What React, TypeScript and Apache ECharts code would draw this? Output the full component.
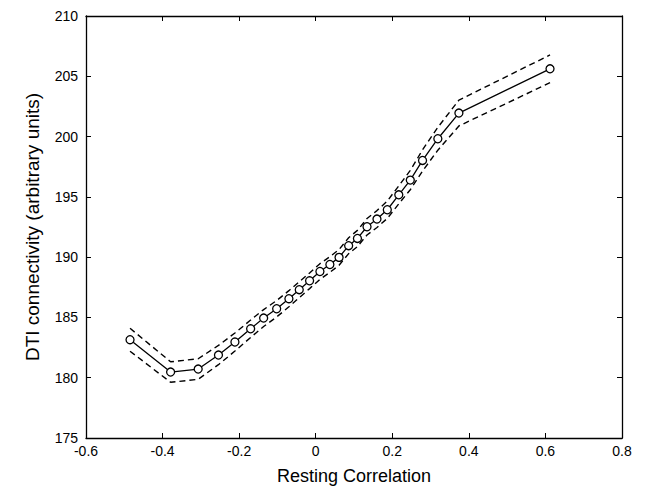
import React, { useEffect, useRef } from "react";
import * as echarts from "echarts";

const xValues = [-0.485, -0.379, -0.307, -0.254, -0.211, -0.170, -0.136, -0.102, -0.070, -0.043, -0.016, 0.011, 0.037, 0.061, 0.086, 0.109, 0.134, 0.160, 0.187, 0.217, 0.247, 0.279, 0.319, 0.374, 0.612];
const meanValues = [183.15, 180.47, 180.72, 181.88, 182.96, 184.06, 184.95, 185.72, 186.55, 187.30, 188.04, 188.81, 189.39, 189.98, 190.95, 191.55, 192.52, 193.16, 193.93, 195.17, 196.39, 198.02, 199.82, 201.95, 205.62];
const upperValues = [184.10, 181.32, 181.57, 182.68, 183.71, 184.78, 185.65, 186.40, 187.22, 187.96, 188.69, 189.46, 190.04, 190.63, 191.61, 192.22, 193.20, 193.86, 194.65, 195.92, 197.19, 198.90, 200.77, 203.02, 206.77];
const lowerValues = [182.20, 179.62, 179.87, 181.08, 182.21, 183.34, 184.25, 185.04, 185.88, 186.64, 187.39, 188.16, 188.74, 189.33, 190.29, 190.88, 191.84, 192.46, 193.21, 194.42, 195.59, 197.14, 198.87, 200.88, 204.47];

const xLabel = "Resting Correlation";
const yLabel = "DTI connectivity (arbitrary units)";

const FONT = "Liberation Sans, Arial, Helvetica, sans-serif";

export default function App() {
  const ref = useRef<HTMLDivElement>(null);
  useEffect(() => {
    if (!ref.current) return;
    const chart = echarts.init(ref.current, undefined, { renderer: "svg" });
    const pair = (ys: number[]) => xValues.map((x, i) => [x, ys[i]]);
    const axisCommon = {
      axisLine: { show: true, onZero: false, lineStyle: { color: "#000", width: 1.3 } },
      axisTick: { show: true, inside: true, length: 5, lineStyle: { color: "#000", width: 1 } },
      splitLine: { show: false },
    };
    chart.setOption({
      animation: false,
      backgroundColor: "#fff",
      grid: { left: 86, top: 16, right: 23, bottom: 56, containLabel: false },
      xAxis: [
        {
          type: "value", min: -0.6, max: 0.8, interval: 0.2, position: "bottom",
          ...axisCommon,
          axisLabel: {
            color: "#000", fontSize: 14, fontFamily: FONT, margin: 6,
            formatter: (v: number) => (Math.abs(v) < 1e-9 ? "0" : String(Math.round(v * 10) / 10)),
          },
          name: xLabel, nameLocation: "middle", nameGap: 29,
          nameTextStyle: { color: "#000", fontSize: 18, fontFamily: FONT },
        },
        {
          type: "value", min: -0.6, max: 0.8, interval: 0.2, position: "top",
          ...axisCommon, axisLabel: { show: false },
        },
      ],
      yAxis: [
        {
          type: "value", min: 175, max: 210, interval: 5, position: "left",
          ...axisCommon,
          axisLabel: { color: "#000", fontSize: 14, fontFamily: FONT, margin: 8 },
          name: yLabel, nameLocation: "middle", nameGap: 44, nameRotate: 90,
          nameTextStyle: { color: "#000", fontSize: 19, fontFamily: FONT },
        },
        {
          type: "value", min: 175, max: 210, interval: 5, position: "right",
          ...axisCommon, axisLabel: { show: false },
        },
      ],
      series: [
        {
          type: "line", data: pair(upperValues), symbol: "none",
          lineStyle: { color: "#000", width: 1.4, type: [6, 4] },
        },
        {
          type: "line", data: pair(lowerValues), symbol: "none",
          lineStyle: { color: "#000", width: 1.4, type: [6, 4] },
        },
        {
          type: "line", data: pair(meanValues), symbol: "circle", symbolSize: 8,
          lineStyle: { color: "#000", width: 1.3 },
          itemStyle: { color: "#fff", borderColor: "#000", borderWidth: 1.3 },
        },
      ],
    });
    return () => chart.dispose();
  }, []);
  return <div ref={ref} style={{ width: 645, height: 494, marginLeft: -8, marginTop: -8 }} />;
}
